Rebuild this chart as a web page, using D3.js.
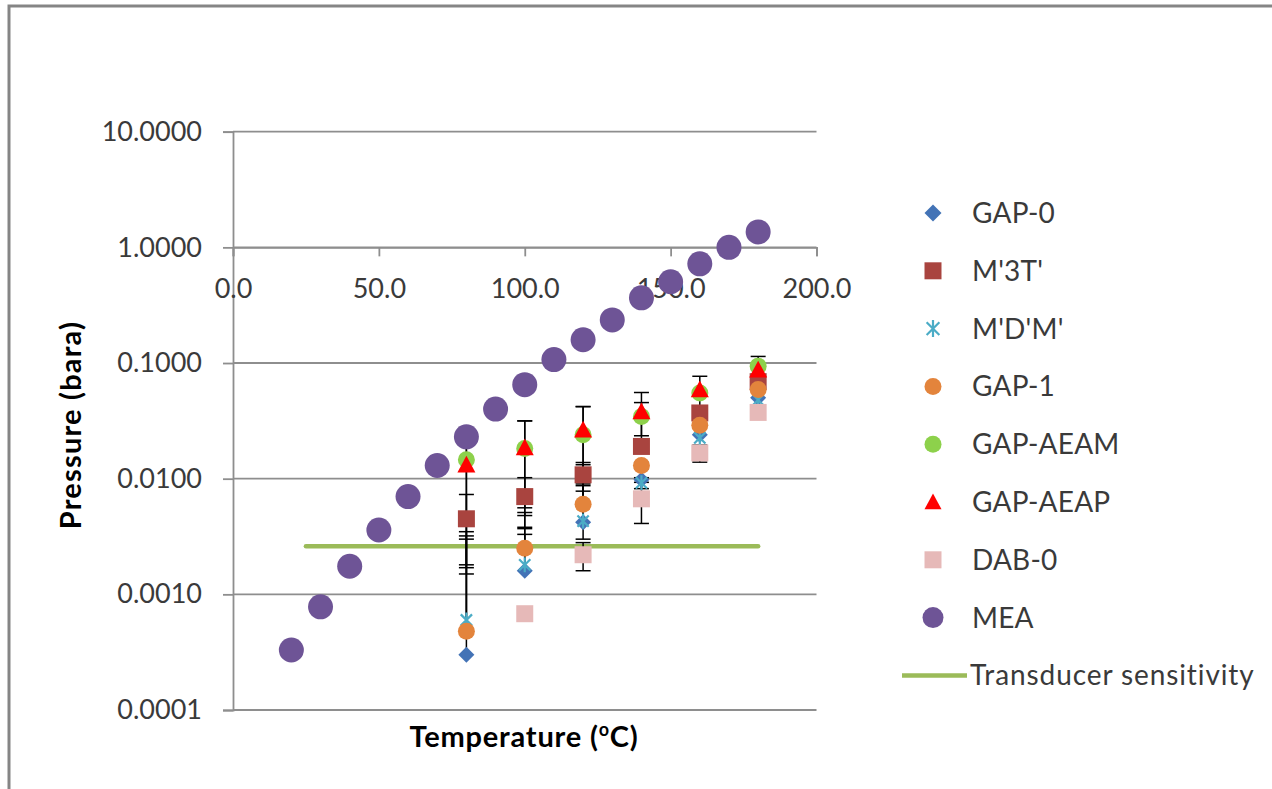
<!DOCTYPE html>
<html>
<head>
<meta charset="utf-8">
<script src="https://cdn.jsdelivr.net/npm/d3@7"></script>
<style>
  body { margin: 0; background: #fff; }
  svg { display: block; font-family: Lato, 'Open Sans', sans-serif; }
</style>
</head>
<body>
<svg id="chart" width="1272" height="789"></svg>
<script>
// temperatures (oC) where the solvents were measured
const temps = [80, 100, 120, 140, 160, 180];

// vapour pressure (bara) per solvent, null = not measured
const gap0 = [0.0003, 0.0016, 0.0042, 0.0098, 0.024, 0.050];
const m3t = [0.0045, 0.0070, 0.0108, 0.019, 0.037, 0.069];
const mdm = [0.0006, 0.0018, 0.0043, 0.0092, 0.0225, 0.048];
const gap1 = [0.00048, 0.0025, 0.0060, 0.013, 0.029, 0.059];
const aeam = [0.0146, 0.0182, 0.024, 0.0345, 0.055, 0.094];
const aeap = [0.0132, 0.0186, 0.0265, 0.038, 0.059, 0.0875];
const dab0 = [null, 0.00068, 0.0022, 0.0067, 0.0167, 0.0374];

// +/- error (bara), 0 = no bar
const gap0Err = [0.0027, 0.0017, 0.009, 0, 0, 0];
const m3tErr = [0.0028, 0.0032, 0.003, 0.002, 0, 0];
const mdmErr = [0.0026, 0.0019, 0.0044, 0.001, 0, 0];
const gap1Err = [0.003, 0.0026, 0.003, 0.0008, 0, 0];
const aeamErr = [0.0128, 0.0134, 0.018, 0.011, 0, 0];
const aeapErr = [0.0117, 0.013, 0.0155, 0.0176, 0.0178, 0.0265];
const dab0Err = [0, 0, 0.0006, 0.0026, 0.0028, 0.002];

// MEA reference curve
const meaTemps = [20, 30, 40, 50, 60, 70, 80, 90, 100, 110, 120, 130, 140, 150, 160, 170, 180];
const mea = [0.00033, 0.00078, 0.00175, 0.0036, 0.0070, 0.0130, 0.0230, 0.040, 0.065, 0.107, 0.159, 0.236, 0.366, 0.504, 0.72, 1.0, 1.36];

// transducer sensitivity line
const sensTemps = [25, 180];
const sensValue = 0.0026;

const xTicks = [0, 50, 100, 150, 200];
const yTicks = [10, 1, 0.1, 0.01, 0.001, 0.0001];

const series = [
  { name: 'GAP-0', values: gap0, err: gap0Err, shape: 'diamond', color: '#4373B6' },
  { name: "M'3T'", values: m3t, err: m3tErr, shape: 'square', color: '#A9443F' },
  { name: "M'D'M'", values: mdm, err: mdmErr, shape: 'star', color: '#4BACC6' },
  { name: 'GAP-1', values: gap1, err: gap1Err, shape: 'circle', color: '#E3843C' },
  { name: 'GAP-AEAM', values: aeam, err: aeamErr, shape: 'circle', color: '#8DD14B' },
  { name: 'GAP-AEAP', values: aeap, err: aeapErr, shape: 'triangle', color: '#FF0000' },
  { name: 'DAB-0', values: dab0, err: dab0Err, shape: 'square', color: '#E6B9B8' }
];

const svg = d3.select('#chart');

const xScale = d3.scaleLinear().domain([0, 200]).range([233, 816.5]);
const yScale = d3.scaleLog().domain([0.0001, 10]).range([710, 131.7]);

// chart border (only top and left visible)
svg.append('path')
  .attr('d', 'M9,789 L9,6 L1272,6')
  .attr('fill', 'none')
  .attr('stroke', '#858585')
  .attr('stroke-width', 3);

// horizontal gridlines
svg.append('g')
  .selectAll('line')
  .data(yTicks)
  .enter().append('line')
  .attr('x1', xScale(0))
  .attr('x2', xScale(200))
  .attr('y1', function (d) { return yScale(d); })
  .attr('y2', function (d) { return yScale(d); })
  .attr('stroke', '#8e8e8e')
  .attr('stroke-width', 1.8);

// y axis
const yAxis = svg.append('g')
  .attr('transform', 'translate(' + xScale(0) + ',0)')
  .call(d3.axisLeft(yScale).tickValues(yTicks).tickFormat(d3.format('.4f')).tickSize(10).tickPadding(21));

// x axis crosses at 1.0 like the Excel original
const xAxis = svg.append('g')
  .attr('transform', 'translate(0,' + yScale(1) + ')')
  .call(d3.axisBottom(xScale).tickValues(xTicks).tickFormat(d3.format('.1f')).tickSize(9).tickPadding(22));

[yAxis, xAxis].forEach(function (ax) {
  ax.selectAll('.domain').attr('stroke', '#8e8e8e').attr('stroke-width', 1.8);
  ax.selectAll('.tick line').attr('stroke', '#8e8e8e').attr('stroke-width', 1.8);
  ax.selectAll('text').attr('font-size', 27).attr('fill', '#3a3a3a').attr('font-family', 'Lato, sans-serif');
});

// axis titles
svg.append('text')
  .attr('transform', 'translate(81,425) rotate(-90)')
  .attr('text-anchor', 'middle')
  .attr('font-size', 29)
  .attr('font-weight', 'bold')
  .attr('letter-spacing', 1.2)
  .text('Pressure (bara)');

const xTitle = svg.append('text')
  .attr('x', 524)
  .attr('y', 747)
  .attr('text-anchor', 'middle')
  .attr('font-size', 29)
  .attr('font-weight', 'bold')
  .attr('letter-spacing', 0.8);
xTitle.append('tspan').text('Temperature (');
xTitle.append('tspan').attr('font-size', 18).attr('dy', -11).text('o');
xTitle.append('tspan').attr('dy', 11).text('C)');

// transducer sensitivity line
svg.append('line')
  .attr('x1', xScale(sensTemps[0]))
  .attr('x2', xScale(sensTemps[1]))
  .attr('y1', yScale(sensValue))
  .attr('y2', yScale(sensValue))
  .attr('stroke', '#9BBB59')
  .attr('stroke-width', 4.5)
  .attr('stroke-linecap', 'round');

// marker path builder
function markerPath (shape, s) {
  const h = s / 2;
  if (shape === 'diamond') return 'M0,' + (-h) + 'L' + h + ',0L0,' + h + 'L' + (-h) + ',0Z';
  if (shape === 'square') return 'M' + (-h) + ',' + (-h) + 'h' + s + 'v' + s + 'h' + (-s) + 'Z';
  if (shape === 'triangle') return 'M0,' + (-h) + 'L' + h + ',' + (h * 0.85) + 'L' + (-h) + ',' + (h * 0.85) + 'Z';
  if (shape === 'star') {
    const d = h * 0.75;
    return 'M0,' + (-h) + 'V' + h + 'M' + (-d) + ',' + (-d) + 'L' + d + ',' + d + 'M' + (-d) + ',' + d + 'L' + d + ',' + (-d);
  }
  return d3.symbol().type(d3.symbolCircle).size(Math.PI * h * h)();
}

function drawMarker (g, shape, color, s) {
  if (shape === 'star') {
    g.append('path').attr('d', markerPath(shape, s)).attr('fill', 'none').attr('stroke', color).attr('stroke-width', 2.2);
  } else {
    g.append('path').attr('d', markerPath(shape, s)).attr('fill', color);
  }
}

// error bars (drawn behind markers)
const errG = svg.append('g');
series.forEach(function (s) {
  temps.forEach(function (t, i) {
    const v = s.values[i];
    const e = s.err[i];
    if (v === null || !e) return;
    const x = xScale(t);
    const hi = v + e;
    const lo = v - e;
    const yTop = yScale(hi);
    const yBot = lo > 0 ? yScale(lo) : yScale(v);
    errG.append('line').attr('x1', x).attr('x2', x).attr('y1', yTop).attr('y2', yBot)
      .attr('stroke', '#000').attr('stroke-width', 1.5);
    errG.append('line').attr('x1', x - 7.5).attr('x2', x + 7.5).attr('y1', yTop).attr('y2', yTop)
      .attr('stroke', '#000').attr('stroke-width', 1.5);
    if (lo > 0) {
      errG.append('line').attr('x1', x - 7.5).attr('x2', x + 7.5).attr('y1', yBot).attr('y2', yBot)
        .attr('stroke', '#000').attr('stroke-width', 1.5);
    }
  });
});

// markers of the solvents
const plotSizes = { diamond: 16, square: 17, star: 15, circle: 17, triangle: 18 };
series.forEach(function (s) {
  temps.forEach(function (t, i) {
    const v = s.values[i];
    if (v === null) return;
    const g = svg.append('g').attr('transform', 'translate(' + xScale(t) + ',' + yScale(v) + ')');
    drawMarker(g, s.shape, s.color, plotSizes[s.shape]);
  });
});

// MEA on top
svg.append('g')
  .selectAll('circle')
  .data(meaTemps)
  .enter().append('circle')
  .attr('cx', function (d) { return xScale(d); })
  .attr('cy', function (d, i) { return yScale(mea[i]); })
  .attr('r', 12.5)
  .attr('fill', '#6E5496');

// legend
const legendItems = series.map(function (s) { return { name: s.name, shape: s.shape, color: s.color }; });
legendItems.push({ name: 'MEA', shape: 'circle', color: '#6E5496' });
legendItems.push({ name: 'Transducer sensitivity', shape: 'line', color: '#9BBB59' });

const legendSizes = { diamond: 17, square: 17, star: 17, circle: 17, triangle: 17 };
const legend = svg.append('g');
legendItems.forEach(function (d, i) {
  const y = 213 + i * 57.8;
  const g = legend.append('g').attr('transform', 'translate(933,' + y + ')');
  if (d.shape === 'line') {
    g.append('line').attr('x1', -31).attr('x2', 34).attr('y1', 0).attr('y2', 0)
      .attr('stroke', d.color).attr('stroke-width', 4.5);
  } else {
    drawMarker(g, d.shape, d.color, d.name === 'MEA' ? 21 : legendSizes[d.shape]);
  }
  legend.append('text')
    .attr('x', d.shape === 'line' ? 970 : 972)
    .attr('y', y)
    .attr('dy', '0.36em')
    .attr('font-size', 28)
    .attr('letter-spacing', d.shape === 'line' ? 0.9 : 0.2)
    .attr('fill', '#3a3a3a')
    .text(d.name);
});
</script>
</body>
</html>
